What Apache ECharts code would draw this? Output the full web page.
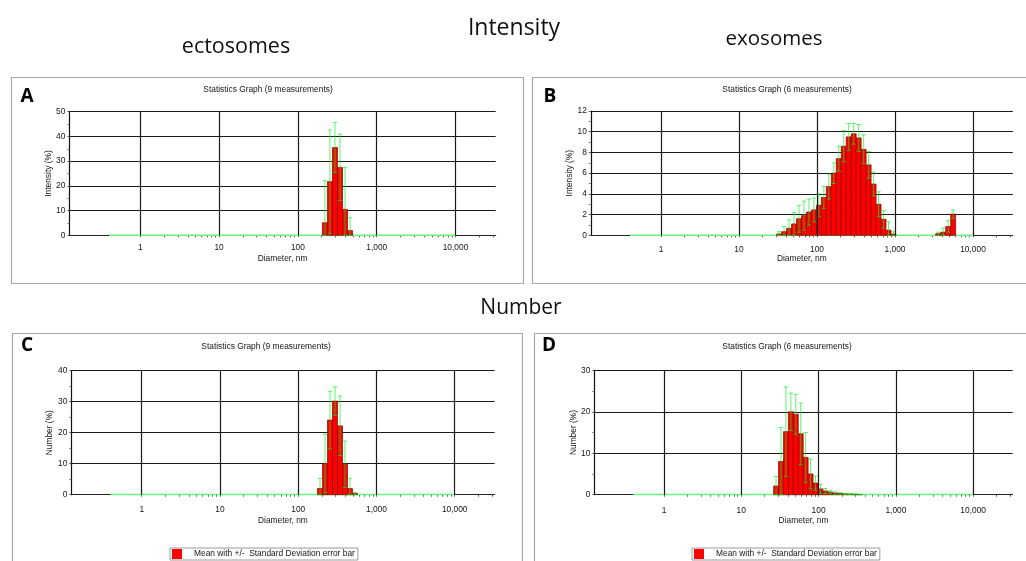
<!DOCTYPE html>
<html>
<head>
<meta charset="utf-8">
<script src="https://cdn.jsdelivr.net/npm/echarts@6/dist/echarts.min.js"></script>
<style>
  html, body { margin: 0; padding: 0; background: #fff; }
  #chart { width: 1026px; height: 561px; }
</style>
</head>
<body>
<div id="chart"></div>
<script>
// Zetasizer size classes, nm
const binSizes = [0.4, 0.4632, 0.5365, 0.6213, 0.7195, 0.8332, 0.9649, 1.117, 1.294, 1.499,
  1.736, 2.01, 2.328, 2.696, 3.122, 3.615, 4.187, 4.849, 5.615, 6.503, 7.531, 8.721, 10.1,
  11.7, 13.54, 15.69, 18.17, 21.04, 24.36, 28.21, 32.67, 37.84, 43.82, 50.75, 58.77, 68.06,
  78.82, 91.28, 105.7, 122.4, 141.8, 164.2, 190.1, 220.2, 255, 295.3, 342, 396.1, 458.7,
  531.2, 615.1, 712.4, 825, 955.4, 1106, 1281, 1484, 1718, 1990, 2305, 2669, 3091, 3580,
  4145, 4801, 5560, 6439, 7456, 8635, 10000];

// A: ectosomes, intensity distribution (mean and SD, %)
const ectoIntensitySize = [220.2, 255, 295.3, 342, 396.1, 458.7];
const ectoIntensityMean = [5.1, 21.7, 35.5, 27.5, 10.5, 1.9];
const ectoIntensitySd   = [17.0, 20.9, 10.1, 13.4, 17.0, 5.2];

// B: exosomes, intensity distribution
const exoIntensitySize = [32.67, 37.84, 43.82, 50.75, 58.77, 68.06, 78.82, 91.28, 105.7, 122.4,
  141.8, 164.2, 190.1, 220.2, 255, 295.3, 342, 396.1, 458.7, 531.2, 615.1, 712.4, 825, 955.4,
  3580, 4145, 4801, 5560];
const exoIntensityMean = [0.13, 0.35, 0.68, 1.1, 1.6, 1.9, 2.25, 2.45, 2.9, 3.65,
  4.7, 6.0, 7.4, 8.6, 9.5, 9.8, 9.4, 8.3, 6.8, 4.95, 3.0, 1.55, 0.5, 0.12,
  0.15, 0.3, 0.85, 2.05];
const exoIntensitySd = [0.22, 0.49, 0.82, 1.1, 1.3, 1.4, 1.25, 1.15, 1.1, 1.05,
  1.2, 1.0, 1.2, 1.5, 1.3, 1.0, 1.3, 1.4, 1.3, 1.15, 1.2, 0.85, 0.8, 0.23,
  0.15, 0.4, 0.55, 0.4];

// C: ectosomes, number distribution
const ectoNumberSize = [190.1, 220.2, 255, 295.3, 342, 396.1, 458.7, 531.2];
const ectoNumberMean = [2.0, 10.1, 24.1, 30.2, 22.2, 9.8, 2.0, 0.4];
const ectoNumberSd   = [3.3, 9.4, 9.3, 4.6, 9.6, 7.5, 3.3, 0.4];

// D: exosomes, number distribution
const exoNumberSize = [28.21, 32.67, 37.84, 43.82, 50.75, 58.77, 68.06, 78.82, 91.28, 105.7,
  122.4, 141.8, 164.2, 190.1, 220.2, 255, 295.3, 342];
const exoNumberMean = [2.1, 8.0, 15.2, 20.0, 19.4, 14.7, 9.0, 5.0, 2.8, 1.4,
  0.9, 0.6, 0.4, 0.3, 0.2, 0.15, 0.1, 0.05];
const exoNumberSd = [2.3, 8.2, 10.8, 4.5, 4.8, 7.4, 6.0, 3.6, 1.7, 1.1,
  0.6, 0.4, 0.3, 0.2, 0.15, 0.1, 0.1, 0.05];

// Diameter axis (log10 of nm)
const xMajorExps = [0, 1, 2, 3, 4];
const xMajorLabels = ['1', '10', '100', '1,000', '10,000'];
const xMinorMantissas = [2, 3, 4, 5, 6, 7, 8, 9];
const xMin = -0.9, xMax = 4.51;

const legendName = 'Mean with +/-  Standard Deviation error bar';
const chartTitle9 = 'Statistics Graph (9 measurements)';
const chartTitle6 = 'Statistics Graph (6 measurements)';

const RED = '#ff0000';
const BAR_EDGE = '#8a0000';
const ERR = 'rgba(0,240,30,0.65)';
const BASE = '#6cf27c';
const GRIDC = '#1a1a1a';
const TXT = '#151515';
const SANS = '"Liberation Sans", Arial, sans-serif';
const HEAD = '"Open Sans", sans-serif';
const FS = 8.4;

// half width of a size class on the log10 axis
const halfBin = (Math.log10(binSizes[binSizes.length - 1]) - Math.log10(binSizes[0])) / (binSizes.length - 1) / 2;

const xTickValues = [];
xMajorExps.forEach(e => {
  xTickValues.push(e);
  xMinorMantissas.forEach(m => {
    const v = e + Math.log10(m);
    if (v <= xMax) xTickValues.push(v);
  });
});

const panels = [
  { letter: 'A', title: chartTitle9, yName: 'Intensity (%)', yMax: 50, yStep: 10,
    size: ectoIntensitySize, mean: ectoIntensityMean, sd: ectoIntensitySd,
    grid: { left: 69.4, width: 426.3, top: 111.7, height: 123.6 },
    labelMargin: 8, nameGap: 19, titlePos: [268, 90], letterPos: [27, 97], legendPos: null },
  { letter: 'B', title: chartTitle6, yName: 'Intensity (%)', yMax: 12, yStep: 2,
    size: exoIntensitySize, mean: exoIntensityMean, sd: exoIntensitySd,
    grid: { left: 590.8, width: 422, top: 111, height: 124.3 },
    labelMargin: 10, nameGap: 19, titlePos: [787, 90], letterPos: [550, 97], legendPos: null },
  { letter: 'C', title: chartTitle9, yName: 'Number (%)', yMax: 40, yStep: 10,
    size: ectoNumberSize, mean: ectoNumberMean, sd: ectoNumberSd,
    grid: { left: 71.3, width: 423.3, top: 370.7, height: 124 },
    labelMargin: 11, nameGap: 22, titlePos: [266, 347], letterPos: [27, 346], legendPos: [170, 548] },
  { letter: 'D', title: chartTitle6, yName: 'Number (%)', yMax: 30, yStep: 10,
    size: exoNumberSize, mean: exoNumberMean, sd: exoNumberSd,
    grid: { left: 594.4, width: 418.2, top: 370.3, height: 124.4 },
    labelMargin: 12, nameGap: 22, titlePos: [787, 347], letterPos: [549, 346], legendPos: [692, 548] }
];

function renderBar(params, api) {
  const x = api.value(0), v = api.value(1);
  const p0 = api.coord([x - halfBin, 0]);
  const p1 = api.coord([x + halfBin, v]);
  return {
    type: 'rect',
    shape: { x: p0[0], y: p1[1], width: p1[0] - p0[0], height: p0[1] - p1[1] },
    style: { fill: RED, stroke: BAR_EDGE, lineWidth: 0.7 }
  };
}

function renderErr(params, api) {
  const x = api.value(0), m = api.value(1), s = api.value(2);
  const top = api.coord([x, m + s]);
  const bot = api.coord([x, Math.max(0, m - s)]);
  const cap = 2.2;
  const st = { stroke: ERR, lineWidth: 1 };
  return {
    type: 'group',
    children: [
      { type: 'line', shape: { x1: top[0], y1: top[1], x2: bot[0], y2: bot[1] }, style: st },
      { type: 'line', shape: { x1: top[0] - cap, y1: top[1], x2: top[0] + cap, y2: top[1] }, style: st },
      { type: 'line', shape: { x1: bot[0] - cap, y1: bot[1], x2: bot[0] + cap, y2: bot[1] }, style: st }
    ]
  };
}

const grids = [], xAxes = [], yAxes = [], series = [], legends = [];
const graphics = [];

// panel frames
const frames = [
  [11.5, 77.5, 512, 206], [532.5, 77.5, 500, 206],
  [12.5, 333.5, 510, 240], [534.5, 333.5, 500, 240]
];
frames.forEach(f => graphics.push({
  type: 'rect', shape: { x: f[0], y: f[1], width: f[2], height: f[3] },
  style: { fill: 'none', stroke: '#a9a9a9', lineWidth: 1.2 }, silent: true
}));

// headings
[
  ['Intensity', 514, 28, 23], ['ectosomes', 236, 47, 21.5],
  ['exosomes', 774, 39, 20.5], ['Number', 521, 308, 21]
].forEach(h => graphics.push({
  type: 'text', x: h[1], y: h[2], silent: true,
  style: { text: h[0], fontFamily: HEAD, fontSize: h[3], fill: '#111', align: 'center', verticalAlign: 'middle' }
}));

panels.forEach((p, i) => {
  grids.push(Object.assign({ containLabel: false }, p.grid));

  graphics.push({
    type: 'text', x: p.letterPos[0], y: p.letterPos[1], silent: true,
    style: { text: p.letter, fontFamily: HEAD, fontWeight: 'bold', fontSize: 19, fill: '#000', align: 'center', verticalAlign: 'middle' }
  });
  graphics.push({
    type: 'text', x: p.titlePos[0], y: p.titlePos[1], silent: true,
    style: { text: p.title, fontFamily: SANS, fontSize: FS, fill: TXT, align: 'center', verticalAlign: 'middle' }
  });

  xAxes.push({
    gridIndex: i, type: 'value', min: xMin, max: xMax,
    axisLine: { show: true, onZero: false, lineStyle: { color: '#222', width: 1 } },
    axisTick: { show: true, customValues: xTickValues, length: 2, lineStyle: { color: '#555' } },
    axisLabel: {
      customValues: xMajorExps, margin: p.labelMargin, fontSize: FS, fontFamily: SANS, color: TXT,
      formatter: v => {
        const k = xMajorExps.findIndex(e => Math.abs(e - v) < 1e-6);
        return k >= 0 ? xMajorLabels[k] : '';
      }
    },
    splitLine: { show: false },
    name: 'Diameter, nm', nameLocation: 'middle', nameGap: p.nameGap,
    nameTextStyle: { fontSize: FS, fontFamily: SANS, color: TXT }
  });

  yAxes.push({
    gridIndex: i, type: 'value', min: 0, max: p.yMax, interval: p.yStep,
    axisLine: { show: true, onZero: false, lineStyle: { color: '#111', width: 1.2 } },
    axisTick: { show: true, length: 2, lineStyle: { color: '#555' } },
    minorTick: { show: true, splitNumber: 2, length: 2, lineStyle: { color: '#777' } },
    axisLabel: { margin: 4, fontSize: FS, fontFamily: SANS, color: TXT },
    splitLine: { show: true, lineStyle: { color: GRIDC, width: 1.2 } },
    name: p.yName, nameLocation: 'middle', nameGap: 17,
    nameTextStyle: { fontSize: FS, fontFamily: SANS, color: TXT }
  });

  // zero line across all size classes, with the decade grid lines
  series.push({
    type: 'line', xAxisIndex: i, yAxisIndex: i, z: 1, silent: true,
    data: binSizes.map(s => [Math.log10(s), 0]),
    symbol: 'none', lineStyle: { color: BASE, width: 1.8 },
    markLine: {
      silent: true, symbol: 'none', label: { show: false },
      lineStyle: { color: GRIDC, width: 1.2, type: 'solid' },
      emphasis: { disabled: true },
      data: xMajorExps.map(e => ({ xAxis: e }))
    }
  });

  series.push({
    name: legendName, type: 'custom', xAxisIndex: i, yAxisIndex: i, z: 2,
    itemStyle: { color: RED },
    renderItem: renderBar,
    data: p.size.map((s, j) => [Math.log10(s), p.mean[j]])
  });

  series.push({
    type: 'custom', xAxisIndex: i, yAxisIndex: i, z: 3, silent: true,
    renderItem: renderErr,
    data: p.size.map((s, j) => [Math.log10(s), p.mean[j], p.sd[j]])
  });

  if (p.legendPos) {
    legends.push({
      data: [legendName], left: p.legendPos[0], top: p.legendPos[1],
      icon: 'rect', itemWidth: 10, itemHeight: 10, itemGap: 0,
      padding: [1, 3, 1, 2], borderColor: '#9a9a9a', borderWidth: 1, selectedMode: false,
      textStyle: { fontSize: FS, fontFamily: SANS, color: TXT, padding: [0, 0, 0, 7] }
    });
  }
});

const chart = echarts.init(document.getElementById('chart'));
chart.setOption({
  backgroundColor: '#ffffff',
  animation: false,
  grid: grids,
  xAxis: xAxes,
  yAxis: yAxes,
  legend: legends,
  graphic: { elements: graphics },
  series: series
});
</script>
</body>
</html>
